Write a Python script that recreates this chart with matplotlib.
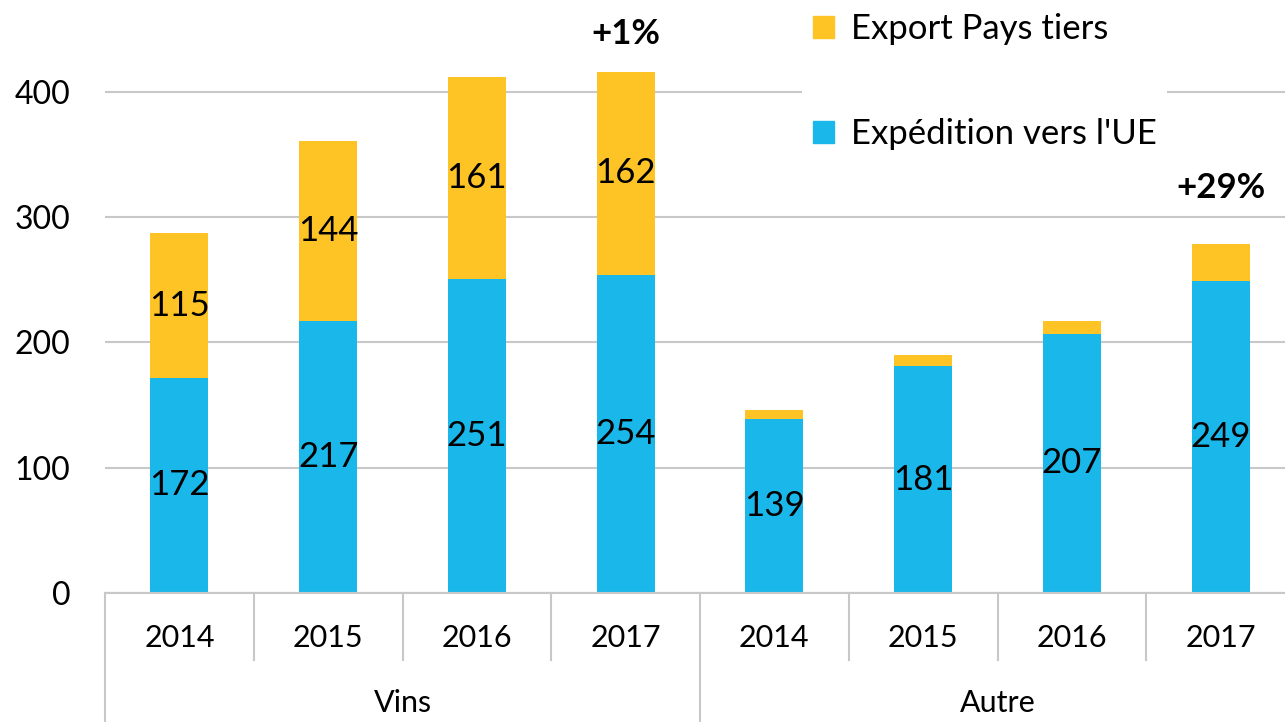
import matplotlib.pyplot as plt
import matplotlib.transforms as mtransforms
from matplotlib.patches import Patch
import numpy as np

plt.rcParams['font.family'] = ['Lato', 'DejaVu Sans']

## data
years = ['2014', '2015', '2016', '2017', '2014', '2015', '2016', '2017']
groups = ['Vins', 'Autre']
ue = [172, 217, 251, 254, 139, 181, 207, 249]
tiers = [115, 144, 161, 162, 7, 9, 10, 30]
show_tiers_label = [True, True, True, True, False, False, False, False]
growth_labels = ['+1%', '+29%']
growth_bars = [3, 7]

blue = '#1AB8EA'
orange = '#FEC325'
grey = '#c8c8c8'

fig = plt.figure(figsize=(12.85, 7.22), dpi=100)
ax = fig.add_axes([105/1285, 129/722, 1190/1285, 593/722])

x = np.arange(len(years))
b1 = ax.bar(x, ue, width=0.39, color=blue, zorder=2)
b2 = ax.bar(x, tiers, width=0.39, bottom=ue, color=orange, zorder=2)

# value labels centred in the segments
for i in range(len(x)):
    ax.text(x[i], ue[i] / 2, str(ue[i]), ha='center', va='center', fontsize=25, zorder=3)
    if show_tiers_label[i]:
        ax.text(x[i], ue[i] + tiers[i] / 2, str(tiers[i]), ha='center', va='center',
                fontsize=25, zorder=3)

offsets = [38, 56]
for lab, bi, off in zip(growth_labels, growth_bars, offsets):
    ax.annotate(lab, (x[bi], ue[bi] + tiers[bi]), xytext=(0, off), textcoords='offset pixels',
                ha='center', va='center', fontsize=25, fontweight='bold')

ax.set_xlim(-0.5, len(years) - 0.5)
ax.set_ylim(0, 473.4)
ax.set_yticks([0, 100, 200, 300, 400])
ax.tick_params(axis='y', length=0, pad=25, labelsize=23)
ax.set_xticks([])
ax.yaxis.grid(True, color=grey, linewidth=1.5, zorder=0)
for s in ['top', 'right', 'left']:
    ax.spines[s].set_visible(False)
ax.spines['bottom'].set_color(grey)
ax.spines['bottom'].set_linewidth(1.5)
ax.spines['bottom'].set_zorder(4)

# multi level category axis
trans = mtransforms.blended_transform_factory(ax.transData, ax.transAxes)
for i in range(len(years)):
    ax.text(x[i], -0.076, years[i], transform=trans, ha='center', va='center', fontsize=22)
for k in range(len(years) + 1):
    xs = k - 0.5
    low = -0.2175 if k % 4 == 0 else -0.113
    ax.plot([xs, xs], [0, low], transform=trans, color=grey, lw=1.5, clip_on=False)
for g, name in enumerate(groups):
    ax.text(g * 4 + 1.5, -0.1855, name, transform=trans, ha='center', va='center', fontsize=22)

handles = [Patch(color=orange), Patch(color=blue)]
leg = ax.legend(handles, ['Export Pays tiers', "Expédition vers l'UE"], loc='upper left',
                bbox_to_anchor=(785/1285, 1.02), bbox_transform=fig.transFigure,
                fontsize=25, frameon=True, framealpha=1, edgecolor='white',
                handlelength=0.6, handleheight=0.6, handletextpad=0.5,
                labelspacing=2.1, borderpad=0.3, fancybox=False)
leg.get_frame().set_linewidth(0)

fig.savefig('out.png', dpi=100)
